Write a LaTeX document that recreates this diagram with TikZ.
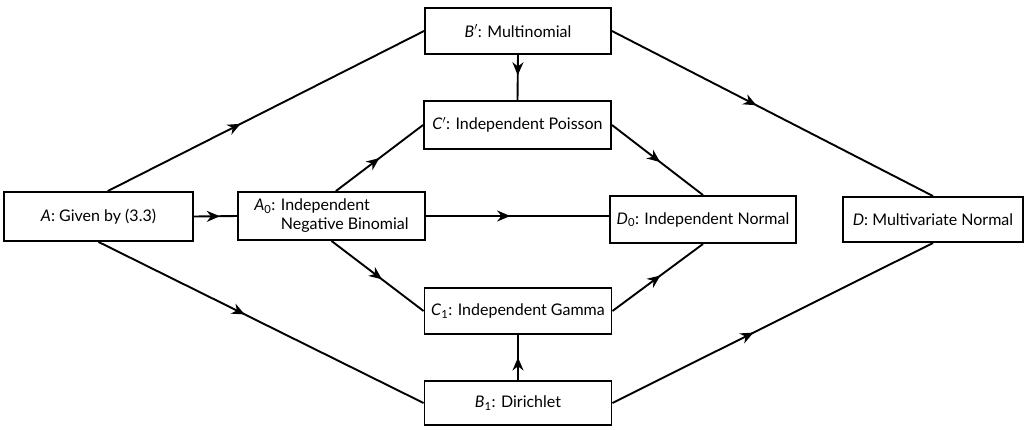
\documentclass[tikz,border=0pt]{standalone}
\usepackage{fontspec}
\setmainfont{Lato}
\usetikzlibrary{arrows.meta,decorations.markings,positioning,calc}
\tikzstyle{dist} = [rectangle, draw=black, line width=1.9pt, text centered, inner sep=0pt, font=\fontsize{16}{19}\selectfont]
\tikzstyle{link} = [line width=1.9pt]
\tikzset{flow/.style={link, postaction={decorate}, decoration={markings, mark=at position #1 with {\arrow{Stealth[length=13pt,width=11pt]}}}}, flow/.default=0.5}

\begin{document}
\begin{tikzpicture}[x=1pt, y=-1pt]
\useasboundingbox (0,0) rectangle (1030,429);
\node (A) [dist, minimum width=189pt, minimum height=49pt] at (98.5,216.5) {\textit{A}: Given by (3.3)};
\node (A0) [dist, minimum width=187pt, minimum height=48pt, align=left] at (331.5,216) {\textit{A}\textsubscript{0}: Independent\\\phantom{\textit{A}\textsubscript{0}: }Negative Binomial};
\node (Bp) [dist, minimum width=186pt, minimum height=46pt] at (518,31) {\textit{B}$'$: Multinomial};
\node (Cp) [dist, minimum width=187pt, minimum height=48pt] at (517.5,125) {\textit{C}$'$: Independent Poisson};
\node (C1) [dist, minimum width=187pt, minimum height=46pt] at (518,311) {\textit{C}\textsubscript{1}: Independent Gamma};
\node (B1) [dist, minimum width=187pt, minimum height=44pt] at (518,403) {\textit{B}\textsubscript{1}: Dirichlet};
\node (D0) [dist, minimum width=186pt, minimum height=47pt] at (703,219.5) {\textit{D}\textsubscript{0}: Independent Normal};
\node (D) [dist, minimum width=180pt, minimum height=45pt] at (933,219.5) {\textit{D}: Multivariate Normal};

\draw [flow=0.42] (A.70) -- (Bp.west);
\draw [flow=0.45] (A.south) -- (B1.west);
\draw [flow=0.6] (A.east) -- (A0.west);
\draw [flow=0.5] (A0.80) -- (Cp.west);
\draw [flow=0.55] (A0.south) -- (C1.west);
\draw [flow=0.46] (A0.east) -- (A0.east -| D0.west);
\draw [flow=0.45] (Bp.south) -- (Cp.north);
\draw [flow=0.5] (B1.north) -- (C1.south);
\draw [flow=0.53] (Cp.east) -- (D0.north);
\draw [flow=0.53] (C1.east) -- (D0.south);
\draw [flow=0.45] (Bp.east) -- (D.north);
\draw [flow=0.44] (B1.east) -- (D.south);
\end{tikzpicture}
\end{document}
